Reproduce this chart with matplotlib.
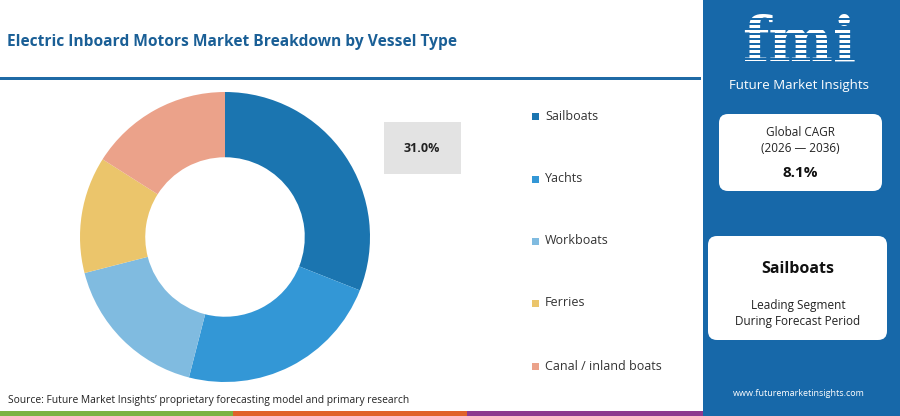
import matplotlib.pyplot as plt
from matplotlib.patches import Rectangle, FancyBboxPatch

plt.rcParams['font.family'] = ['Open Sans', 'DejaVu Sans']

segments = ["Sailboats", "Yachts", "Workboats", "Ferries", "Canal / inland boats"]
shares = [31.0, 23.0, 17.0, 13.0, 16.0]
colors = ["#1b75b0", "#3397d6", "#80bbe0", "#ebc56b", "#eba28a"]

title = "Electric Inboard Motors Market Breakdown by Vessel Type"
source = "Source: Future Market Insights\u2019 proprietary forecasting model and primary research"
cagr_label = "Global CAGR"
cagr_period = "(2026 \u2014 2036)"
cagr_value = "8.1%"
lead_segment = "Sailboats"

W, H = 900, 416
fig = plt.figure(figsize=(W / 100, H / 100), dpi=100)
fig.patch.set_facecolor("white")


def px(x, y):
    # pixel coords (top-left origin) -> figure fraction
    return x / W, 1 - y / H


bg = fig.add_axes([0, 0, 1, 1])
bg.set_xlim(0, W)
bg.set_ylim(H, 0)
bg.axis("off")

# header
bg.text(7, 42, title, fontsize=11.2, fontweight="bold", color="#1a5f96", va="center", ha="left")
bg.add_patch(Rectangle((0, 77), 701, 3, color="#1f6aa5", lw=0))

# bottom colour strip
bg.add_patch(Rectangle((0, 411), 233, 5, color="#7cb342", lw=0))
bg.add_patch(Rectangle((233, 411), 234, 5, color="#e0622a", lw=0))
bg.add_patch(Rectangle((467, 411), 236, 5, color="#8e3a8f", lw=0))

bg.text(8, 400, source, fontsize=7.4, color="#222222", va="center", ha="left")

# right panel
bg.add_patch(Rectangle((703, 0), 197, 416, color="#1768a9", lw=0))
bg.text(799, 44, "fmi", fontsize=44, fontweight="bold", color="white",
        ha="center", va="center", family="DejaVu Serif")
for yy in range(18, 72, 5):
    bg.add_patch(Rectangle((725, yy), 150, 1.5, color="#1768a9", lw=0, zorder=5))
bg.text(799, 86, "Future Market Insights", fontsize=9.5, color="white", ha="center", va="center")

bg.add_patch(FancyBboxPatch((719, 114), 163, 77, boxstyle="round,pad=0,rounding_size=9",
                            fc="white", ec="none"))
bg.text(800, 133, cagr_label, fontsize=8.5, color="#222222", ha="center", va="center")
bg.text(800, 149, cagr_period, fontsize=8.5, color="#222222", ha="center", va="center")
bg.text(800, 173, cagr_value, fontsize=11, fontweight="bold", color="#111111", ha="center", va="center")

bg.add_patch(FancyBboxPatch((708, 236), 179, 104, boxstyle="round,pad=0,rounding_size=9",
                            fc="white", ec="none"))
bg.text(798, 269, lead_segment, fontsize=11.5, fontweight="bold", color="#111111", ha="center", va="center")
bg.text(798, 305, "Leading Segment", fontsize=8.5, color="#222222", ha="center", va="center")
bg.text(798, 322, "During Forecast Period", fontsize=8.5, color="#222222", ha="center", va="center")
bg.text(799, 393, "www.futuremarketinsights.com", fontsize=6.5, color="white", ha="center", va="center")

# value callout
bg.add_patch(Rectangle((384, 122), 77, 52, color="#e3e3e3", lw=0))
bg.text(422, 148, f"{shares[0]:.1f}%", fontsize=9, fontweight="bold", color="#222222",
        ha="center", va="center")

# legend
legend_y = [116, 179, 241, 303, 366]
for name, c, yy in zip(segments, colors, legend_y):
    bg.add_patch(Rectangle((532, yy - 3.5), 7, 7, color=c, lw=0))
    bg.text(545, yy, name, fontsize=9, color="#333333", ha="left", va="center")

# donut
l, b = px(80, 382)
ax = fig.add_axes([l, b, 290 / W, 290 / H])
ax.pie(shares, colors=colors, startangle=90, counterclock=False,
       wedgeprops=dict(width=0.45, edgecolor="none"))
ax.set_xlim(-1, 1)
ax.set_ylim(-1, 1)
ax.set_aspect("equal")
ax.axis("off")

fig.savefig("out.png", dpi=100)
